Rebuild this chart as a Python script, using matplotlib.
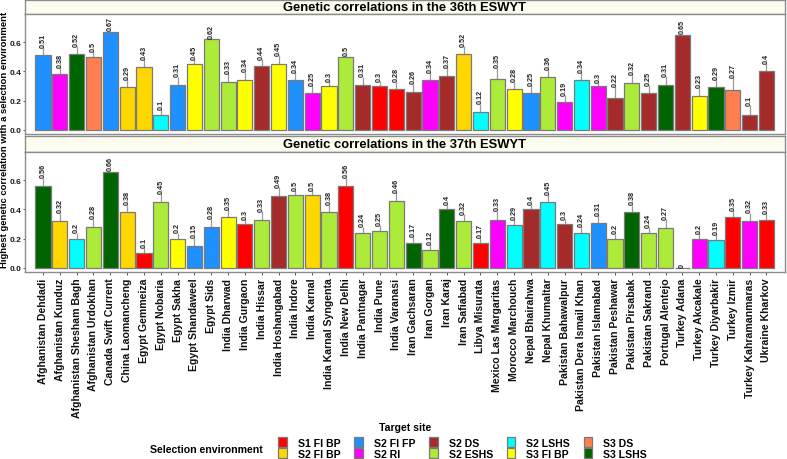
import numpy as np
import matplotlib
matplotlib.use("Agg")
import matplotlib.pyplot as plt
from matplotlib.patches import Patch

plt.rcParams["font.family"] = ["Liberation Sans", "DejaVu Sans"]
plt.rcParams["font.weight"] = "bold"

# ---- data ----
sites = [
    "Afghanistan Dehdadi", "Afghanistan Kunduz", "Afghanistan Shesham Bagh",
    "Afghanistan Urdokhan", "Canada Swift Current", "China Laomancheng",
    "Egypt Gemmeiza", "Egypt Nobaria", "Egypt Sakha", "Egypt Shandaweel",
    "Egypt Sids", "India Dharwad", "India Gurgaon", "India Hissar",
    "India Hoshangabad", "India Indore", "India Karnal", "India Karnal Syngenta",
    "India New Delhi", "India Pantnagar", "India Pune", "India Varanasi",
    "Iran Gachsaran", "Iran Gorgan", "Iran Karaj", "Iran Safiabad",
    "Libya Misurata", "Mexico Las Margaritas", "Morocco Marchouch",
    "Nepal Bhairahwa", "Nepal Khumaltar", "Pakistan Bahawalpur",
    "Pakistan Dera Ismail Khan", "Pakistan Islamabad", "Pakistan Peshawar",
    "Pakistan Pirsabak", "Pakistan Sakrand", "Portugal Alentejo",
    "Turkey Adana", "Turkey Akcakale", "Turkey Diyarbakir", "Turkey Izmir",
    "Turkey Kahramanmaras", "Ukraine Kharkov",
]

corr_36 = [0.51, 0.38, 0.52, 0.5, 0.67, 0.29, 0.43, 0.1, 0.31, 0.45, 0.62,
           0.33, 0.34, 0.44, 0.45, 0.34, 0.25, 0.3, 0.5, 0.31, 0.3, 0.28,
           0.26, 0.34, 0.37, 0.52, 0.12, 0.35, 0.28, 0.25, 0.36, 0.19, 0.34,
           0.3, 0.22, 0.32, 0.25, 0.31, 0.65, 0.23, 0.29, 0.27, 0.1, 0.4]
err_36 = [0.057, 0.05, 0.053, 0.039, 0.01, 0.057, 0.053, 0.039, 0.053, 0.034,
          0.01, 0.057, 0.057, 0.046, 0.062, 0.055, 0.055, 0.034, 0.01, 0.055,
          0.034, 0.05, 0.057, 0.055, 0.06, 0.053, 0.057, 0.075, 0.048, 0.055,
          0.055, 0.046, 0.055, 0.027, 0.08, 0.062, 0.055, 0.057, 0.01, 0.057,
          0.055, 0.09, 0.066, 0.057]
env_36 = ["S2 FI FP", "S2 RI", "S3 LSHS", "S3 DS", "S2 FI FP", "S2 FI BP",
          "S2 FI BP", "S2 LSHS", "S2 FI FP", "S3 FI BP", "S2 ESHS", "S2 ESHS",
          "S3 FI BP", "S2 DS", "S3 FI BP", "S2 FI FP", "S2 RI", "S3 FI BP",
          "S2 ESHS", "S2 DS", "S1 FI BP", "S1 FI BP", "S2 DS", "S2 RI",
          "S2 DS", "S2 FI BP", "S2 LSHS", "S2 ESHS", "S3 FI BP", "S2 FI FP",
          "S2 ESHS", "S2 RI", "S2 LSHS", "S2 RI", "S2 DS", "S2 ESHS", "S2 DS",
          "S3 LSHS", "S2 DS", "S3 FI BP", "S3 LSHS", "S3 DS", "S2 DS", "S2 DS"]

corr_37 = [0.56, 0.32, 0.2, 0.28, 0.66, 0.38, 0.1, 0.45, 0.2, 0.15, 0.28,
           0.35, 0.3, 0.33, 0.49, 0.5, 0.5, 0.38, 0.56, 0.24, 0.25, 0.46,
           0.17, 0.12, 0.4, 0.32, 0.17, 0.33, 0.29, 0.4, 0.45, 0.3, 0.24,
           0.31, 0.2, 0.38, 0.24, 0.27, 0, 0.2, 0.19, 0.35, 0.32, 0.33]
err_37 = [0.057, 0.057, 0.041, 0.057, 0.005, 0.053, 0.04, 0.06, 0.041, 0.057,
          0.057, 0.05, 0.034, 0.057, 0.062, 0.032, 0.032, 0.053, 0.057, 0.041,
          0.041, 0.06, 0.046, 0.04, 0.034, 0.046, 0.041, 0.06, 0.041, 0.034,
          0.053, 0.034, 0.046, 0.05, 0.034, 0.053, 0.039, 0.064, 0.0, 0.037,
          0.039, 0.046, 0.057, 0.046]
env_37 = ["S3 LSHS", "S2 FI BP", "S2 LSHS", "S2 ESHS", "S3 LSHS", "S2 FI BP",
          "S1 FI BP", "S2 ESHS", "S3 FI BP", "S2 FI FP", "S2 FI FP", "S3 FI BP",
          "S1 FI BP", "S2 ESHS", "S2 DS", "S2 ESHS", "S2 FI BP", "S2 ESHS",
          "S1 FI BP", "S2 ESHS", "S2 ESHS", "S2 ESHS", "S3 LSHS", "S2 ESHS",
          "S3 LSHS", "S2 ESHS", "S1 FI BP", "S2 RI", "S2 LSHS", "S2 DS",
          "S2 LSHS", "S2 DS", "S2 LSHS", "S2 FI FP", "S2 ESHS", "S3 LSHS",
          "S2 ESHS", "S2 ESHS", "S2 ESHS", "S2 RI", "S2 LSHS", "S1 FI BP",
          "S2 RI", "S1 FI BP"]

env_levels = ["S1 FI BP", "S2 FI BP", "S2 FI FP", "S2 RI", "S2 DS",
              "S2 ESHS", "S2 LSHS", "S3 FI BP", "S3 DS", "S3 LSHS"]
env_colors = ["#FF0000", "#FFD700", "#1E90FF", "#FF00FF", "#A52A2A",
              "#ADEB3B", "#00FFFF", "#FFFF00", "#FF7F50", "#006400"]
color_of = dict(zip(env_levels, env_colors))

panels = [
    ("Genetic correlations in the 36th ESWYT", corr_36, err_36, env_36),
    ("Genetic correlations in the 37th ESWYT", corr_37, err_37, env_37),
]

W, H = 787, 460
fig = plt.figure(figsize=(W / 100, H / 100), dpi=100)

def fx(px):
    return px / W

def fy(py):
    return 1 - py / H

left, right = 24.5, 785
# (strip top, strip bottom / panel top, panel bottom) in pixels
rows = [(1, 15, 135), (137, 153, 273)]

x = np.arange(len(sites))
for i, ((title, vals, errs, envs), (s_top, p_top, p_bot)) in enumerate(zip(panels, rows)):
    # strip
    sax = fig.add_axes([fx(left), fy(p_top), fx(right - left), (p_top - s_top) / H])
    sax.set_facecolor("#FDFDEF")
    sax.set_xticks([])
    sax.set_yticks([])
    for sp in sax.spines.values():
        sp.set_color("#8c8c8c")
        sp.set_linewidth(1.0)
    sax.text(0.5, 0.5, title, transform=sax.transAxes, ha="center", va="center",
             fontsize=9.4, fontweight="bold", color="black")

    ax = fig.add_axes([fx(left), fy(p_bot), fx(right - left), (p_bot - p_top) / H])
    cols = [color_of[e] for e in envs]
    ax.bar(x, vals, width=0.9, color=cols, edgecolor="#7a7a7a", linewidth=0.9, zorder=2)
    tops = np.array(vals) + np.array(errs)
    ax.vlines(x, vals, tops, color="#9a9a9a", linewidth=0.9, zorder=1)
    for xi, v, t in zip(x, vals, tops):
        ax.text(xi, t + 0.003, f"{v:g}", rotation=90, ha="center", va="bottom",
                fontsize=5.2, fontweight="bold", color="#222222")
    ax.set_xlim(-0.6 - 0.5, len(sites) - 0.5 + 0.6)
    ax.set_ylim(-0.03, 0.795)
    ax.set_yticks([0.0, 0.2, 0.4, 0.6])
    ax.set_yticklabels(["0.0", "0.2", "0.4", "0.6"])
    ax.tick_params(axis="y", labelsize=6.0, length=1.5, width=0.7, color="#555555",
                   pad=0.6, labelcolor="#1a1a1a")
    ax.set_xticks(x)
    if i == 1:
        ax.set_xticklabels(sites, rotation=90, fontsize=7.6, fontweight="bold",
                           color="#111111")
        ax.tick_params(axis="x", length=2.5, width=0.7, color="#555555", pad=1.5)
    else:
        ax.set_xticklabels([])
        ax.tick_params(axis="x", length=0)
    for lbl in ax.get_yticklabels():
        lbl.set_fontweight("bold")
    for sp in ax.spines.values():
        sp.set_color("#8c8c8c")
        sp.set_linewidth(1.0)

fig.text(fx(4.2), fy(140), "Highest genetic correlation with a selection environment",
         rotation=90, ha="center", va="center", fontsize=6.8, fontweight="bold")
fig.text(fx(405), fy(428), "Target site", ha="center", va="center",
         fontsize=7.6, fontweight="bold")
fig.text(fx(263), fy(450), "Selection environment", ha="right", va="center",
         fontsize=7.6, fontweight="bold")

handles = [Patch(facecolor=c, edgecolor="#7a7a7a", linewidth=0.9) for c in env_colors]
leg = fig.legend(handles, env_levels, ncol=5, loc="center left",
                 bbox_to_anchor=(fx(271), fy(449)), frameon=False,
                 prop={"size": 7.6, "weight": "bold"},
                 handlelength=0.85, handleheight=0.95, handletextpad=1.0,
                 labelspacing=0.08, columnspacing=1.3, borderpad=0.2)

fig.savefig("out.png", dpi=100)
